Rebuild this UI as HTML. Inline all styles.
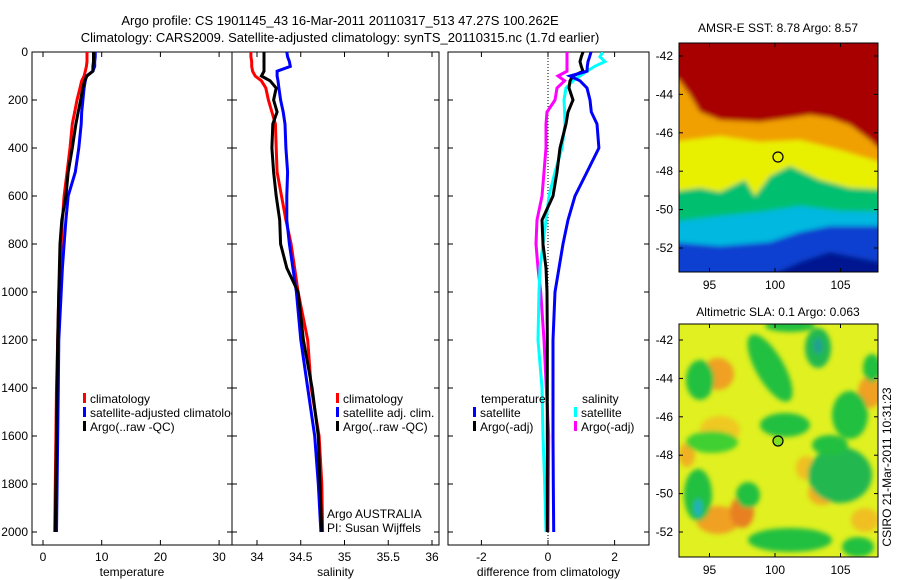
<!DOCTYPE html>
<html><head><meta charset="utf-8"><style>
body{margin:0;background:#fff;}
svg{display:block;font-family:"Liberation Sans",sans-serif;}
</style></head><body>
<svg id="c" width="900" height="580" viewBox="0 0 900 580">
<defs>
<clipPath id="cp1"><rect x="32" y="52" width="200" height="493"/></clipPath>
<clipPath id="cp2"><rect x="232" y="52" width="207" height="493"/></clipPath>
<clipPath id="cp3"><rect x="448" y="52" width="201" height="493"/></clipPath>
<clipPath id="cm1"><rect x="679" y="43" width="199" height="229"/></clipPath>
<clipPath id="cm2"><rect x="679" y="324" width="199" height="233"/></clipPath>
<filter id="bl" x="-10%" y="-10%" width="120%" height="120%"><feGaussianBlur stdDeviation="2.5"/></filter>
</defs>
<text x="340" y="25" font-size="13" text-anchor="middle">Argo profile: CS 1901145_43 16-Mar-2011 20110317_513 47.27S 100.262E</text>
<text x="340" y="42" font-size="13" text-anchor="middle">Climatology: CARS2009. Satellite-adjusted climatology: synTS_20110315.nc (1.7d earlier)</text>

<!-- SST map -->
<g clip-path="url(#cm1)">
<rect x="679" y="43" width="199" height="229" fill="#0030c0"/>
<g filter="url(#bl)">
<path d="M670,40 H890 V280 H670Z" fill="#0a40d0"/>
<path d="M670,40 H890 V226 L830,226 L800,232 L770,242 L720,246 L670,242Z" fill="#00b8e0"/>
<path d="M670,40 H890 V212 L840,211 L800,206 L760,212 L720,216 L670,222Z" fill="#00c070"/>
<path d="M670,40 H890 V190 L850,188 L820,180 L790,166 L770,176 L755,196 L745,180 L720,192 L700,188 L670,192Z" fill="#e8f000"/>
<path d="M670,40 H890 V165 L840,150 L800,140 L760,142 L720,136 L670,142Z" fill="#f0a000"/>
<path d="M670,40 H890 V158 L870,140 L850,125 L830,118 L810,115 L790,118 L760,122 L720,120 L700,112 L690,95 L679,80 L670,78Z" fill="#a80000"/>
<path d="M800,262 L830,252 L860,258 L890,264 V280 H760Z" fill="#001890"/>
</g>
<circle cx="778" cy="157" r="5" fill="none" stroke="#000" stroke-width="1.2"/>
</g>
<rect x="679" y="43" width="199" height="229" fill="none" stroke="#000"/>
<text x="778" y="32" font-size="12" text-anchor="middle">AMSR-E SST: 8.78 Argo: 8.57</text>

<!-- SLA map -->
<g clip-path="url(#cm2)">
<rect x="679" y="324" width="199" height="233" fill="#e0f020"/>
<g filter="url(#bl)">
<ellipse cx="718" cy="374" rx="16" ry="16" fill="#f0a020"/>
<ellipse cx="870" cy="392" rx="12" ry="16" fill="#f0a020"/>
<ellipse cx="718" cy="520" rx="22" ry="14" fill="#f0a020"/>
<ellipse cx="742" cy="512" rx="12" ry="16" fill="#e88020"/>
<ellipse cx="687" cy="455" rx="8" ry="12" fill="#f0b020"/>
<ellipse cx="822" cy="493" rx="14" ry="12" fill="#f0b020"/>
<ellipse cx="806" cy="468" rx="10" ry="12" fill="#f0c020"/>
<ellipse cx="865" cy="520" rx="14" ry="12" fill="#f0c020"/>
<ellipse cx="720" cy="430" rx="20" ry="14" fill="#f0c820"/>
<ellipse cx="818" cy="348" rx="13" ry="20" fill="#20b850"/>
<ellipse cx="770" cy="368" rx="14" ry="38" transform="rotate(-30 770 368)" fill="#20c040"/>
<ellipse cx="700" cy="380" rx="14" ry="20" fill="#20c040"/>
<ellipse cx="785" cy="425" rx="25" ry="12" fill="#20c040"/>
<ellipse cx="850" cy="415" rx="18" ry="24" fill="#20c040"/>
<ellipse cx="840" cy="475" rx="32" ry="28" fill="#20b850"/>
<ellipse cx="830" cy="445" rx="18" ry="10" fill="#20c040"/>
<ellipse cx="712" cy="442" rx="26" ry="11" fill="#40d030"/>
<ellipse cx="698" cy="495" rx="14" ry="26" fill="#20c040"/>
<ellipse cx="748" cy="495" rx="12" ry="13" fill="#20c040"/>
<ellipse cx="790" cy="540" rx="42" ry="12" fill="#20c040"/>
<ellipse cx="858" cy="547" rx="16" ry="10" fill="#20c040"/>
<ellipse cx="872" cy="368" rx="9" ry="14" fill="#20c040"/>
<ellipse cx="790" cy="326" rx="25" ry="6" fill="#20c040"/>
<ellipse cx="818" cy="346" rx="5" ry="8" fill="#20a090"/>
<ellipse cx="698" cy="508" rx="4" ry="9" fill="#20b0c0"/>
</g>
<circle cx="778" cy="441" r="5" fill="#80e020" stroke="#000" stroke-width="1.2"/>
</g>
<rect x="679" y="324" width="199" height="233" fill="none" stroke="#000"/>
<text x="778" y="316" font-size="12" text-anchor="middle">Altimetric SLA: 0.1 Argo: 0.063</text>
<text transform="translate(891,467) rotate(-90)" font-size="12" text-anchor="middle">CSIRO 21-Mar-2011 10:31:23</text>

<g id="plots"></g>
</svg>
<script>
const depths = [0,20,40,60,80,100,120,150,200,250,300,400,500,600,700,800,900,1000,1200,1400,1600,1800,2000];
const tempClim = [7.5,7.5,7.5,7.4,7.2,7.0,6.6,6.3,5.8,5.4,5.0,4.6,4.1,3.6,3.3,3.1,2.9,2.7,2.5,2.3,2.2,2.1,2.0];
const tempSat = [8.9,8.9,8.8,8.8,8.5,7.4,7.2,7.0,6.8,6.6,6.5,6.1,5.5,4.3,3.9,3.6,3.3,3.1,2.7,2.6,2.5,2.4,2.3];
const tempArgo = [8.6,8.6,8.6,8.5,8.5,7.5,7.1,6.8,6.4,6.0,5.6,5.0,4.3,3.9,3.2,2.9,2.8,2.7,2.5,2.4,2.3,2.2,2.1];
const salClim = [33.93,33.93,33.94,33.94,33.95,33.98,34.05,34.10,34.13,34.17,34.21,34.22,34.23,34.28,34.33,34.39,34.43,34.47,34.58,34.62,34.71,34.74,34.75];
const salSat = [34.34,34.35,34.37,34.38,34.23,34.23,34.24,34.25,34.27,34.30,34.32,34.33,34.35,34.34,34.34,34.37,34.41,34.45,34.50,34.58,34.66,34.70,34.73];
const salArgo = [34.08,34.08,34.08,34.08,34.08,34.05,34.15,34.22,34.19,34.23,34.18,34.17,34.19,34.22,34.26,34.27,34.34,34.47,34.53,34.63,34.70,34.72,34.74];
const diffTempSat = [1.29,1.25,1.2,1.18,1.17,0.66,0.96,1.17,1.26,1.3,1.47,1.53,1.17,0.81,0.6,0.45,0.33,0.21,0.15,0.15,0.15,0.16,0.17];
const diffTempArgo = [1.05,1.0,0.96,1.0,1.05,0.75,0.66,0.63,0.75,0.6,0.54,0.36,0.27,0.15,-0.18,-0.15,-0.06,-0.03,-0.02,-0.02,-0.02,-0.02,-0.02];
const diffSalSat = [1.65,1.56,1.71,1.4,1.17,0.96,0.75,0.54,0.48,0.5,0.51,0.42,0.21,0.03,-0.06,-0.15,-0.24,-0.27,-0.3,-0.18,-0.15,-0.1,-0.06];
const diffSalArgo = [0.57,0.57,0.57,0.57,0.57,0.3,0.5,0.27,0.21,-0.03,-0.06,-0.06,-0.12,-0.18,-0.33,-0.36,-0.3,-0.22,-0.12,-0.05,0.02,0.01,0];
const depthTicks = [0,200,400,600,800,1000,1200,1400,1600,1800,2000];
const tempTicks = [0,10,20,30];
const salTicks = ["34","34.5","35","35.5","36"];
const diffTicks = ["-2","0","2"];
const sstLatTicks = ["-42","-44","-46","-48","-50","-52"];
const lonTicks = ["95","100","105"];

const NS = "http://www.w3.org/2000/svg";
const root = document.getElementById('plots');
function mk(tag, attrs, parent){const e=document.createElementNS(NS,tag);for(const k in attrs)e.setAttribute(k,attrs[k]);(parent||root).appendChild(e);return e;}
const yD = p => 52 + p*0.24;

const panels = [
 {x0:32,x1:232,v0:43,k:5.87,base:0,clip:'cp1',ticks:tempTicks,title:'temperature',name:'temperature'},
 {x0:232,x1:439,v0:257,k:87.5,base:34,clip:'cp2',ticks:salTicks,title:'salinity',name:'salinity'},
 {x0:448,x1:649,v0:548,k:33.3,base:0,clip:'cp3',ticks:diffTicks,title:'difference from climatology',name:'difference'}
];
panels.forEach(P=>{P.sx = v => P.v0 + (v-P.base)*P.k;});

panels.forEach((P,i)=>{
  const g = mk('g',{});
  
  
  const fr = mk('rect',{x:P.x0,y:52,width:P.x1-P.x0,height:493,fill:'none',stroke:'#000'},g);
  
  
  depthTicks.forEach(d=>{
    const y=yD(d);
    mk('line',{x1:P.x0,x2:P.x0+5,y1:y,y2:y,stroke:'#000'},g);
    mk('line',{x1:P.x1,x2:P.x1-5,y1:y,y2:y,stroke:'#000'},g);
    if(i===0){
      const t=mk('text',{x:28,y:y+4,'font-size':12,'text-anchor':'end'},g);
      t.textContent=d;
      
      
    }
  });
  P.ticks.forEach(tv=>{
    const x=P.sx(parseFloat(tv));
    mk('line',{x1:x,x2:x,y1:545,y2:540,stroke:'#000'},g);
    mk('line',{x1:x,x2:x,y1:52,y2:57,stroke:'#000'},g);
    const t=mk('text',{x:x,y:561,'font-size':12,'text-anchor':'middle'},g);
    t.textContent=tv;
    
    
  });
  const at=mk('text',{x:(P.x0+P.x1)/2,y:576,'font-size':12,'text-anchor':'middle'},g);
  at.textContent=P.title;
  
  
});
const zl = mk('line',{x1:panels[2].sx(0),x2:panels[2].sx(0),y1:52,y2:545,stroke:'#000','stroke-dasharray':'1,2'});



function series(P, vals, color, name){
  const pts = vals.map((v,j)=>P.sx(v).toFixed(1)+','+yD(depths[j]).toFixed(1)).join(' ');
  const l = mk('polyline',{points:pts,fill:'none',stroke:color,'stroke-width':3,'clip-path':'url(#'+P.clip+')'});
  
  
}
series(panels[0], tempClim, '#ff0000', 'temp-climatology-line');
series(panels[0], tempSat, '#0000ff', 'temp-satellite-line');
series(panels[0], tempArgo, '#000000', 'temp-argo-line');
series(panels[1], salClim, '#ff0000', 'sal-climatology-line');
series(panels[1], salSat, '#0000ff', 'sal-satellite-line');
series(panels[1], salArgo, '#000000', 'sal-argo-line');
series(panels[2], diffSalArgo, '#ff00ff', 'diff-sal-argo-line');
series(panels[2], diffSalSat, '#00ffff', 'diff-sal-satellite-line');
series(panels[2], diffTempArgo, '#000000', 'diff-temp-argo-line');
series(panels[2], diffTempSat, '#0000ff', 'diff-temp-satellite-line');

function legendEntry(x,y,color,label,clip){
  const g=mk('g',clip?{'clip-path':'url(#'+clip+')'}:{});
  
  
  if(color) mk('rect',{x:x,y:y-10,width:3,height:10,fill:color},g);
  const t=mk('text',{x:x+7,y:y,'font-size':12},g);
  t.textContent=label;
}
legendEntry(83,403,'#ff0000','climatology','cp1');
legendEntry(83,417,'#0000ff','satellite-adjusted climatology','cp1');
legendEntry(83,431,'#000000','Argo(..raw -QC)','cp1');
legendEntry(336,403,'#ff0000','climatology','cp2');
legendEntry(336,417,'#0000ff','satellite adj. clim.','cp2');
legendEntry(336,431,'#000000','Argo(..raw -QC)','cp2');
legendEntry(474,403,null,'temperature');
legendEntry(473,417,'#0000ff','satellite');
legendEntry(473,431,'#000000','Argo(-adj)');
legendEntry(575,403,null,'salinity');
legendEntry(574,417,'#00ffff','satellite');
legendEntry(574,431,'#ff00ff','Argo(-adj)');
const a1=mk('text',{x:327,y:518,'font-size':12}); a1.textContent='Argo AUSTRALIA';


const a2=mk('text',{x:327,y:532,'font-size':12}); a2.textContent='PI: Susan Wijffels';



const lonX = v => 775 + (v-100)*13.1;
function mapAxes(top,bottom,lat0y,name){
  sstLatTicks.forEach(lt=>{
    const y = lat0y + (-42 - parseFloat(lt))*19.2;
    mk('line',{x1:878,x2:874,y1:y,y2:y,stroke:'#000'});
    mk('line',{x1:679,x2:683,y1:y,y2:y,stroke:'#000'});
    const t=mk('text',{x:673,y:y+4,'font-size':12,'text-anchor':'end'});
    t.textContent=lt;
    
    
  });
  lonTicks.forEach(ln=>{
    const x=lonX(parseFloat(ln));
    mk('line',{x1:x,x2:x,y1:top,y2:top+4,stroke:'#000'});
    mk('line',{x1:x,x2:x,y1:bottom,y2:bottom-4,stroke:'#000'});
    const t=mk('text',{x:x,y:bottom+17,'font-size':12,'text-anchor':'middle'});
    t.textContent=ln;
    
    
  });
}
mapAxes(43,272,56,'sst-map');
mapAxes(324,557,340,'sla-map');
</script>
</body></html>
